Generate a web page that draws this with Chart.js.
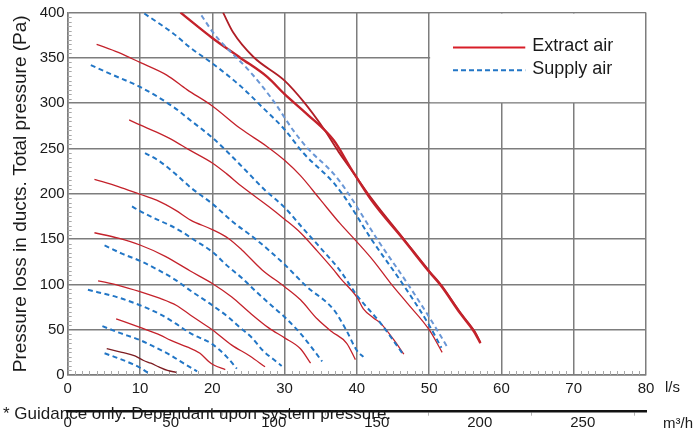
<!DOCTYPE html>
<html>
<head>
<meta charset="utf-8">
<title>Pressure loss in ducts</title>
<script src="https://cdn.jsdelivr.net/npm/chart.js@4.4.1/dist/chart.umd.min.js"></script>
<style>
    html, body { margin: 0; padding: 0; background: #fff; }
    #wrap { width: 694px; height: 430px; }
</style>
</head>
<body>
<div id="wrap"><canvas id="ductChart" width="694" height="430"></canvas></div>
<script>
// [flow l/s, pressure Pa]
const extract1 = [[5.4, 29], [7.5, 25], [9.3, 21], [10.5, 16], [11.5, 13], [12.6, 9], [13.8, 5], [15, 3]];
const extract2 = [[6.7, 62], [10, 52.5], [12.8, 44], [14.2, 38.5], [16.5, 31], [18.3, 24], [19.5, 15], [20.2, 11], [21.8, 6]];
const extract3 = [[4.2, 104], [7, 99], [10, 92], [12.8, 84.5], [15, 77], [17, 66], [18.3, 59], [20, 50], [22.7, 33], [25.2, 21], [27.3, 9]];
const extract4 = [[3.7, 157], [7, 151], [10, 143.5], [13.5, 131], [16.9, 115], [20, 101], [22.7, 86], [25, 70], [27.8, 52], [30, 41], [32.2, 29], [33.6, 13]];
const extract5 = [[3.7, 216], [7, 208], [10, 199.5], [12.3, 193], [14.9, 182], [17, 171], [20, 160.5], [22.2, 151], [24.1, 138], [26.9, 116], [30, 97.5], [32.2, 83], [34.5, 62], [36.5, 48], [38.6, 35], [39.8, 17]];
const extract6 = [[8.5, 281.5], [10, 276], [12.3, 268], [14.6, 259], [16.7, 249], [20, 234], [22, 222], [24.1, 208], [27.8, 186], [30, 172], [32.2, 157], [34.5, 137], [36.8, 116], [37.7, 107], [40, 86], [40.9, 73], [42.3, 63], [43.3, 57], [45.1, 39], [46.5, 23]];
const extract7 = [[4, 365], [7, 356], [10, 345], [13.7, 331], [16.5, 315], [20, 297], [23.9, 272], [27.6, 252], [30, 237], [32.2, 220], [35, 193], [37.7, 167], [40, 147], [42.3, 126], [44.6, 102], [47, 79], [50, 50], [51.8, 25]];
const extract8a = [[15.6, 400], [20, 372], [23.9, 350], [27.6, 329], [30, 310], [33.1, 288], [36.8, 259], [39.1, 229], [42, 193], [46.5, 149], [50, 114], [51.6, 99], [54.3, 68], [56.2, 48], [57.1, 35]];
const extract8b = [[21.5, 400], [22.9, 378], [25.7, 351], [30, 325], [32.6, 302], [35.4, 272], [37.5, 246], [39.1, 228], [42.2, 193], [46.6, 149], [50.1, 114], [51.7, 99], [54.4, 68], [56.3, 48], [57.1, 36]];

const supply1 = [[5.1, 24], [7, 18.5], [9, 12], [10, 8], [11.2, 2]];
const supply2 = [[4.8, 54], [7, 47], [10, 38.5], [12, 31], [14.2, 22], [16, 13], [17.9, 4]];
const supply3 = [[2.8, 94], [6.8, 86], [10, 77], [12.8, 67], [14.9, 57], [17, 46], [20, 34], [22, 20], [23.4, 7]];
const supply4 = [[5.1, 143], [7.5, 134], [10, 126], [12.5, 116], [14.9, 105], [17, 93], [20, 77], [22.2, 64], [23.9, 52], [25.5, 41], [27, 27], [28.5, 17], [29.6, 10]];
const supply5 = [[8.9, 186], [10, 181], [12, 173], [14.2, 165], [16, 157], [17.5, 149], [20, 136], [22, 121], [24.1, 107], [26.2, 91], [28.3, 76], [30, 64], [32.4, 44], [35.2, 15]];
const supply6 = [[10.7, 245], [12.5, 237], [14.9, 222], [17, 207], [20, 189], [23, 168], [26, 150], [30, 122], [33, 98], [36.8, 72], [38.5, 50], [40, 27], [40.9, 20]];
const supply7 = [[3.2, 342], [6, 332], [10, 318], [14.6, 296], [17, 281], [20, 262], [22, 247], [24.6, 226], [27.3, 204], [30, 185], [32.2, 165], [35, 140], [37.7, 115], [40, 88], [43.3, 57], [46.3, 24]];
const supply8 = [[10.6, 399], [14.6, 377], [17, 361], [20, 344], [23.9, 319], [27, 295], [30, 271], [32.6, 245], [36.8, 212], [38.6, 193], [42, 150], [46.3, 101], [50, 55], [51.7, 30]];
const supply9 = [[18.5, 397], [20.2, 377], [22, 361], [25.2, 335], [28.5, 302], [31.2, 270], [33.1, 251], [36.8, 222], [38.6, 203], [42.8, 150], [47, 101], [50.7, 55], [52.5, 31]];

const flowTicks = [0, 10, 20, 30, 40, 50, 60, 70, 80];
const pressureTicks = [0, 50, 100, 150, 200, 250, 300, 350, 400];
const m3hTicks = [0, 25, 50, 75, 100, 125, 150, 175, 200, 225, 250, 275];
const seriesNames = ['Extract air', 'Supply air'];

const RED = '#c4222b';
const BLUE = '#2276c6';
const GRID = '#7d7d7d';
const TEXT = '#1a1a1a';

Chart.defaults.font.family = "'Liberation Sans', Arial, sans-serif";

function toPoints(pairs) {
    return pairs.map(p => ({ x: p[0], y: p[1] }));
}

function extractLine(pairs, extra) {
    return Object.assign({
        label: seriesNames[0],
        data: toPoints(pairs),
        borderColor: RED,
        borderWidth: 1.3,
        showLine: true,
        pointRadius: 0,
        cubicInterpolationMode: 'monotone'
    }, extra || {});
}

function supplyLine(pairs, extra) {
    return Object.assign({
        label: seriesNames[1],
        data: toPoints(pairs),
        borderColor: BLUE,
        borderWidth: 2,
        borderDash: [5, 3.5],
        showLine: true,
        pointRadius: 0,
        cubicInterpolationMode: 'monotone'
    }, extra || {});
}

const datasets = [
    supplyLine(supply1), supplyLine(supply2), supplyLine(supply3), supplyLine(supply4), supplyLine(supply5),
    supplyLine(supply6), supplyLine(supply7), supplyLine(supply8), supplyLine(supply9, { borderColor: '#6a97d6' }),
    extractLine(extract1, { borderColor: '#7d1d22' }), extractLine(extract2), extractLine(extract3), extractLine(extract4),
    extractLine(extract5), extractLine(extract6), extractLine(extract7),
    extractLine(extract8a, { borderWidth: 2.4 }), extractLine(extract8b, { borderColor: '#b01e26', borderWidth: 1.8 })
];

// legend box, minor ticks and the loose texts round the axes
const extras = {
    id: 'extras',
    beforeDatasetsDraw(chart) {
        const { ctx, chartArea: a, scales: { x, y } } = chart;
        ctx.save();
        ctx.strokeStyle = '#a8a8a8';
        ctx.lineWidth = 1;
        ctx.beginPath();
        for (let v = 1; v < 80; v++) {
            if (v % 10 === 0) continue;
            const px = Math.round(x.getPixelForValue(v)) + 0.5;
            ctx.moveTo(px, a.bottom);
            ctx.lineTo(px, a.bottom - 4);
        }
        for (let v = 5; v < 400; v += 5) {
            if (v % 50 === 0) continue;
            const py = Math.round(y.getPixelForValue(v)) + 0.5;
            ctx.moveTo(a.left, py);
            ctx.lineTo(a.left + 4, py);
        }
        ctx.stroke();

        // blank the grid inside the legend box (50..80 l/s, 300..400 Pa)
        const l = x.getPixelForValue(50), r = x.getPixelForValue(80);
        const t = y.getPixelForValue(400), b = y.getPixelForValue(300);
        ctx.fillStyle = '#fff';
        ctx.fillRect(l + 1, t + 1, r - l - 2, b - t - 2);
        ctx.restore();
    },
    afterDraw(chart) {
        const { ctx, chartArea: a, scales: { x, y } } = chart;
        ctx.save();

        // legend
        const x0 = x.getPixelForValue(53.3), x1 = x.getPixelForValue(63.3);
        const yRed = y.getPixelForValue(361.5), yBlue = y.getPixelForValue(336.5);
        ctx.lineWidth = 2;
        ctx.strokeStyle = '#d81e28';
        ctx.beginPath();
        ctx.moveTo(x0, yRed);
        ctx.lineTo(x1, yRed);
        ctx.stroke();
        ctx.strokeStyle = BLUE;
        ctx.setLineDash([5, 3]);
        ctx.beginPath();
        ctx.moveTo(x0, yBlue);
        ctx.lineTo(x1, yBlue);
        ctx.stroke();
        ctx.setLineDash([]);
        ctx.fillStyle = TEXT;
        ctx.font = "18px 'Liberation Sans', Arial, sans-serif";
        ctx.textBaseline = 'middle';
        ctx.fillText(seriesNames[0], x1 + 7, yRed - 1.5);
        ctx.fillText(seriesNames[1], x1 + 7, yBlue - 1.5);

        // units
        ctx.font = "15px 'Liberation Sans', Arial, sans-serif";
        ctx.fillText('l/s', a.right + 19, a.bottom + 13);
        ctx.textBaseline = 'alphabetic';
        ctx.fillText('m³/h', a.right + 17, 428);

        // footnote
        ctx.font = "17px 'Liberation Sans', Arial, sans-serif";
        ctx.fillText('* Guidance only. Dependant upon system pressure.', 3, 418.5);
        ctx.restore();
    }
};

new Chart(document.getElementById('ductChart'), {
    type: 'scatter',
    data: { datasets: datasets },
    options: {
        responsive: false,
        animation: false,
        events: [],
        layout: { padding: { top: 12.6, right: 48, left: 0, bottom: 0 } },
        plugins: {
            legend: { display: false },
            tooltip: { enabled: false }
        },
        scales: {
            x: {
                type: 'linear',
                position: 'bottom',
                weight: 0,
                min: 0,
                max: 80,
                afterBuildTicks: s => { s.ticks = flowTicks.map(v => ({ value: v })); },
                afterFit: s => { s.height = 36.7; },
                grid: { color: GRID, lineWidth: 1.5, drawTicks: false },
                border: { color: GRID, width: 1.5 },
                ticks: { padding: 5, color: TEXT, font: { size: 15 }, maxRotation: 0 }
            },
            x2: {
                type: 'linear',
                position: 'bottom',
                weight: 1,
                min: 0,
                max: 280.7,
                afterBuildTicks: s => { s.ticks = m3hTicks.map(v => ({ value: v })); },
                afterFit: s => { s.height = 18.3; },
                grid: {
                    drawOnChartArea: false,
                    drawTicks: true,
                    tickLength: 4,
                    color: c => (c.tick && c.tick.value % 50 !== 0) ? '#b4b4b4' : 'rgba(0,0,0,0)'
                },
                border: { color: '#111', width: 2.5 },
                ticks: {
                    padding: -2,
                    color: TEXT,
                    font: { size: 15 },
                    maxRotation: 0,
                    autoSkip: false,
                    callback: v => (v % 50 === 0 ? v : '')
                }
            },
            y: {
                type: 'linear',
                min: 0,
                max: 400,
                afterBuildTicks: s => { s.ticks = pressureTicks.map(v => ({ value: v })); },
                afterFit: s => { s.width = 67.7; },
                grid: { color: GRID, lineWidth: 1.5, drawTicks: false },
                border: { color: GRID, width: 1.5 },
                ticks: { padding: 3, color: TEXT, font: { size: 15 } },
                title: {
                    display: true,
                    text: 'Pressure loss in ducts. Total pressure (Pa)',
                    color: TEXT,
                    font: { size: 19 },
                    padding: { top: 9, bottom: 0 }
                }
            }
        }
    },
    plugins: [extras]
});
</script>
</body>
</html>
